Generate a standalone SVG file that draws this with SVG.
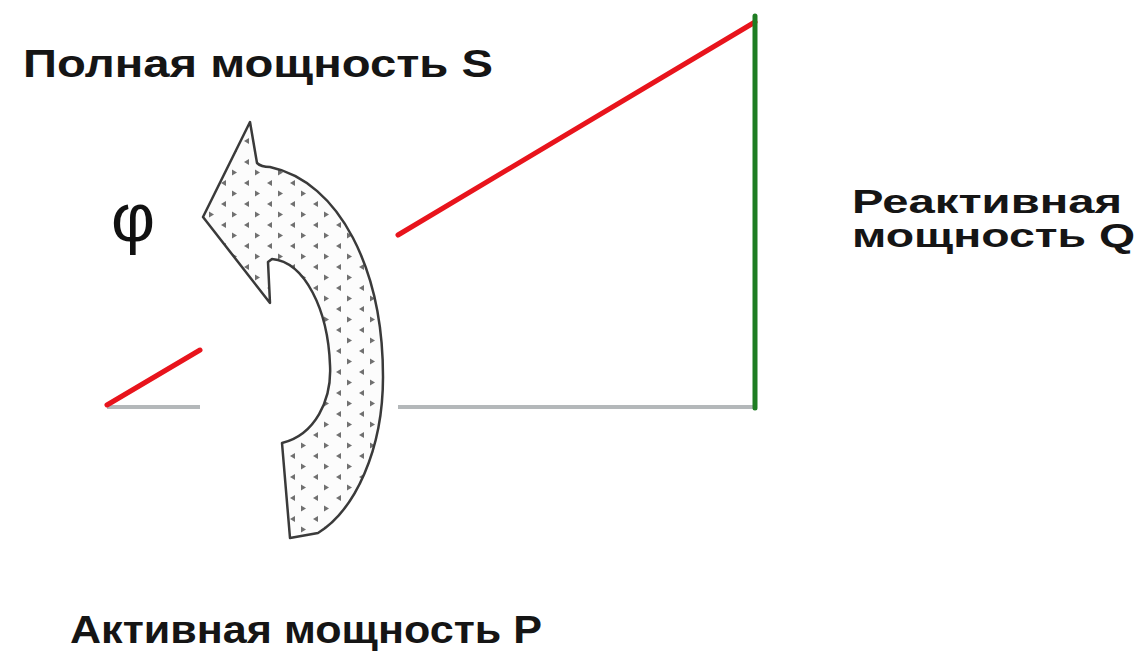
<svg xmlns="http://www.w3.org/2000/svg" width="1141" height="657" viewBox="0 0 1141 657">
<style>
.lbl{font-family:"Liberation Sans",Arial,sans-serif;font-weight:bold;fill:#151515;}
.red{stroke:#e8141c;stroke-width:5;stroke-linecap:round;fill:none}
.gray{stroke:#b4b8ba;stroke-width:4;fill:none}
.green{stroke:#1e7d22;stroke-width:5;stroke-linecap:round;fill:none}
.dot{fill:#707070}
</style>
<defs>
<pattern id="dots" width="23" height="21" patternUnits="userSpaceOnUse">
<rect width="23" height="21" fill="#fcfcfc"/>
<path class="dot" d="M2,1.5 L7,4.5 L2,7.5 Z"/>
<path class="dot" d="M19,12 L14,15 L19,18 Z"/>
</pattern>
</defs>
<rect width="1141" height="657" fill="#ffffff"/>
<g id="connectors">
<line class="gray" x1="107" y1="407" x2="200" y2="407"/>
<line class="gray" x1="398" y1="407" x2="755" y2="407"/>
<line class="red" x1="107" y1="405" x2="200" y2="350"/>
<line class="red" x1="398" y1="235" x2="755" y2="22"/>
<line class="green" x1="755" y1="16" x2="755" y2="408"/>
</g>
<g id="arrow">
<path d="M250,122 L257,163 Q261,167 270,167 C340,182 383,270 383,377 C383,450 355,510 318,533 L290,538 L282,443 C315,435 332,400 330,365 C328,310 305,262 272,259 L268,262 L270,303 L203,217 Z" fill="url(#dots)" stroke="#3a3a3a" stroke-width="2.5" stroke-linejoin="round"/>
</g>
<g id="label-s"><text class="lbl" x="23" y="77" font-size="38" textLength="470" lengthAdjust="spacingAndGlyphs">Полная мощность S</text></g>
<g id="label-q"><text class="lbl" x="852" y="213" font-size="33" textLength="270" lengthAdjust="spacingAndGlyphs">Реактивная</text>
<text class="lbl" x="852" y="247" font-size="33" textLength="283" lengthAdjust="spacingAndGlyphs">мощность Q</text></g>
<g id="label-p"><text class="lbl" x="70" y="643" font-size="38" textLength="472" lengthAdjust="spacingAndGlyphs">Активная мощность P</text></g>
<g id="label-phi"><text x="111" y="241" font-family="'Liberation Sans',Arial,sans-serif" font-size="68" fill="#111">φ</text></g>
</svg>
